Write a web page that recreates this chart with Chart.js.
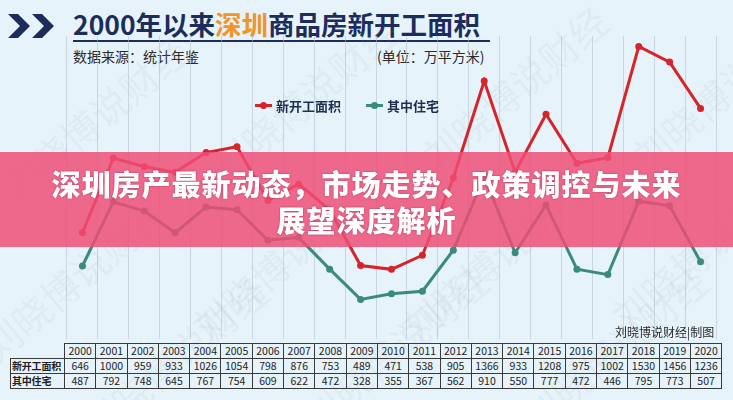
<!DOCTYPE html>
<html>
<head>
<meta charset="utf-8">
<script src="https://cdn.jsdelivr.net/npm/chart.js@4"></script>
<style>
  html, body { margin: 0; padding: 0; }
  body { width: 733px; height: 400px; overflow: hidden; background: #e6f3fa; position: relative;
         font-family: "Noto Sans CJK SC", "Noto Sans", sans-serif; }
  .abs { position: absolute; }
  #title { left: 73px; top: 4px; font-size: 26.5px; font-weight: 700; color: #1c2d5c; white-space: nowrap; }
  #title .hl { color: #f0952a; }
  #rule { left: 73px; top: 40px; width: 417px; height: 2px; background: #1c2d5c; }
  #src { left: 73px; top: 46px; font-size: 14px; color: #2a2a2a; }
  #unit { left: 377px; top: 46px; font-size: 14px; color: #2a2a2a; }
  #legend { left: 255px; top: 96px; font-size: 13px; font-weight: 700; color: #1e2f4f; display: flex; align-items: center; }
  .mk { position: relative; width: 17px; height: 3px; margin-right: 4px; }
  .mk i { position: absolute; left: 5px; top: -2px; width: 7px; height: 7px; border-radius: 50%; }
  #chartBox { left: 63px; top: 32px; width: 657px; height: 311px; }
  #band { left: 0; top: 152px; width: 733px; height: 95px; background: rgba(240, 78, 118, 0.84); }
  #bandText { left: 0; top: 165px; width: 733px; text-align: center; color: #fff; font-size: 29px; font-weight: 900;
              line-height: 36px; letter-spacing: 1px; text-shadow: 0 0 2px rgba(120,20,50,0.6); }
  #credit { left: 615px; top: 323px; font-size: 12px; color: #2a2a2a; }
  #tbl { left: 10px; top: 343px; border-collapse: collapse; table-layout: fixed; font-size: 10.5px; color: #222; white-space: nowrap; }
  #tbl td { border: 1px solid #3a3a3a; height: 14px; padding: 0; text-align: center; width: 30.3px; line-height: 14px; }
  #tbl td.lab { width: 52px; font-weight: 700; text-align: left; padding-left: 1px; font-size: 10px; letter-spacing: -0.2px; }
  #tbl td.blank { border: none; }
  .wm { position: absolute; font-size: 38px; color: rgba(140, 160, 185, 0.11); transform: rotate(-40deg); white-space: nowrap; pointer-events: none; }
</style>
</head>
<body>
<svg class="abs" style="left:8px;top:14px" width="50" height="24" viewBox="0 0 50 24">
  <polygon points="0,0 10,0 22,12 10,24 0,24 12,12" fill="#1c2d5c"/>
  <polygon points="24,0 34,0 46,12 34,24 24,24 36,12" fill="#1c2d5c"/>
</svg>
<div id="title" class="abs">2000年以来<span class="hl">深圳</span>商品房新开工面积</div>
<div id="rule" class="abs"></div>
<div id="src" class="abs">数据来源：统计年鉴</div>
<div id="unit" class="abs">(单位：万平方米)</div>

<div id="wms"></div>

<div id="chartBox" class="abs"><canvas id="c"></canvas></div>

<div id="legend" class="abs">
  <span class="mk" style="background:#d6242b"><i style="background:#d6242b"></i></span><span>新开工面积</span>
  <span style="width:25px"></span>
  <span class="mk" style="background:#3a8b7c"><i style="background:#3a8b7c"></i></span><span>其中住宅</span>
</div>

<div id="band" class="abs"></div>
<div id="bandText" class="abs">深圳房产最新动态，市场走势、政策调控与未来<br>展望深度解析</div>

<div id="credit" class="abs">刘晓博说财经|制图</div>
<table id="tbl" class="abs"></table>

<script>
// data
const years = ['2000','2001','2002','2003','2004','2005','2006','2007','2008','2009','2010',
               '2011','2012','2013','2014','2015','2016','2017','2018','2019','2020'];
const newStarts = [646, 1000, 959, 933, 1026, 1054, 798, 876, 753, 489, 471,
                   538, 905, 1366, 933, 1208, 975, 1002, 1530, 1456, 1236];
const housing = [487, 792, 748, 645, 767, 754, 609, 622, 472, 328, 355,
                 367, 562, 910, 550, 777, 472, 446, 795, 773, 507];
const seriesNames = ['新开工面积', '其中住宅'];

const RED = '#d6242b';
const TEAL = '#3a8b7c';

// watermarks
const wmBox = document.getElementById('wms');
[[-20, 90], [190, 70], [400, 60], [610, 60], [-40, 250], [170, 230], [380, 230], [590, 220], [60, 330], [280, 320], [500, 320]]
  .forEach(([x, y]) => {
    const d = document.createElement('div');
    d.className = 'wm';
    d.style.left = x + 'px';
    d.style.top = y + 'px';
    d.textContent = '刘晓博说财经';
    wmBox.appendChild(d);
  });

// table
const tbl = document.getElementById('tbl');
let html = '<tr><td class="blank lab"></td>' + years.map(y => `<td>${y}</td>`).join('') + '</tr>';
html += `<tr><td class="lab">${seriesNames[0]}</td>` + newStarts.map(v => `<td>${v}</td>`).join('') + '</tr>';
html += `<tr><td class="lab">${seriesNames[1]}</td>` + housing.map(v => `<td>${v}</td>`).join('') + '</tr>';
tbl.innerHTML = html;

new Chart(document.getElementById('c'), {
  type: 'line',
  data: {
    labels: years,
    datasets: [
      { label: seriesNames[0], data: newStarts, borderColor: RED, backgroundColor: RED,
        borderWidth: 3, pointRadius: 3.5, pointBorderWidth: 0, tension: 0, clip: false },
      { label: seriesNames[1], data: housing, borderColor: TEAL, backgroundColor: TEAL,
        borderWidth: 3, pointRadius: 3.5, pointBorderWidth: 0, tension: 0, clip: false }
    ]
  },
  options: {
    responsive: true, maintainAspectRatio: false, animation: false,
    layout: { padding: 0 },
    plugins: { legend: { display: false }, tooltip: { enabled: false } },
    scales: {
      x: { offset: true,
           grid: { offset: true, color: 'rgba(175,190,205,0.55)', drawTicks: false },
           ticks: { display: false }, border: { display: false } },
      y: { display: false, min: 140, max: 1580 }
    }
  }
});
</script>
</body>
</html>
